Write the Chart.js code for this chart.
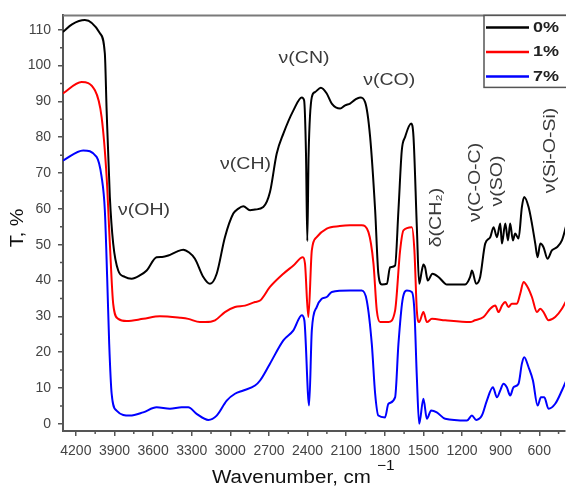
<!DOCTYPE html>
<html>
<head>
<meta charset="utf-8">
<script src="https://cdn.jsdelivr.net/npm/chart.js@4.4.1/dist/chart.umd.min.js"></script>
<style>
  html, body { margin: 0; padding: 0; background: #fff; }
  #wrap { width: 566px; height: 489px; position: relative; }
</style>
</head>
<body>
<div id="wrap"><canvas id="ftir-chart"></canvas></div>
<script>
// series names / colours
var seriesNames = ['0%', '1%', '7%'];
var seriesColors = ['#000000', '#ff0000', '#0000ff'];

// 0% sample
var wn0 = [4300,4230,4130,4013,3975,3961,3936,3910,3871,3820,3767,3700,3650,3573,3530,3482,3420,3366,3320,3275,
  3210,3158,3106,3042,2977,2940,2899,2847,2808,2744,2692,2640,2588,2510,2445,2427,2412,2402,2392,2367,
  2342,2297,2251,2212,2147,2108,2070,2030,1992,1953,1914,1875,1850,1823,1784,1759,1720,1694,1668,1642,
  1595,1577,1551,1533,1512,1500,1487,1466,1430,1383,1331,1318,1176,1137,1123,1090,1059,1020,981,955,
  929,903,890,864,843,826,805,787,761,735,717,683,657,631,613,592,567,536,502,463,424,390];
var t0 = [109.4,111.5,112.7,109,103.4,87.5,63.3,50.3,42.8,41,40.5,41.5,42.8,46.5,46.6,47,48,48.6,47.8,46.1,
  41,39.1,41.9,52.1,58.7,60,60.7,59.6,59.8,60.5,64.7,75.4,81,87.5,91.1,90.3,75,51,75,91.2,
  92.6,93.8,92.2,89.4,88,88.9,89.4,90.5,91.1,89.8,80.1,59.6,41.9,38.9,39.1,43.7,44.2,59.6,76.3,80.1,
  83.8,80.1,54.9,39.1,42.8,44.5,43.7,40,41.9,41,39.1,38.9,38.9,41,42.8,39.1,41,50.3,52.1,54.9,
  52.1,55.9,50.3,55.9,51.2,55.9,51.2,53.1,51.7,60.5,63.3,60.5,55.9,50.3,46.5,50.3,49.3,46.1,48.4,49.3,51.2,55.4];

// 1% sample
var wn1 = [4300,4156,4052,4000,3961,3936,3910,3871,3806,3677,3547,3391,3327,3236,3197,3119,3042,2964,2886,2808,
  2769,2692,2588,2510,2437,2420,2394,2367,2329,2251,2150,2070,1979,1927,1888,1862,1836,1772,1720,1681,
  1655,1590,1570,1551,1533,1500,1473,1434,1331,1137,1100,1033,981,942,916,890,864,839,813,774,
  748,722,691,657,618,592,567,528,476,424,390];
var t1 = [92.2,95.4,93.1,85.6,68.9,50.3,33.5,29.3,28.7,29.3,30,29.6,29.3,28.4,28.4,28.9,31.2,32.6,33,34,
  34.4,38.2,41.9,44.2,46.5,44.7,29.8,48.4,52.1,54.5,55.2,55.4,55.4,53.5,44.7,31.6,28.4,28.4,31.6,48.4,
  54,54.9,48.4,31.6,28.4,31.2,28.4,29.3,28.9,28.4,28.9,29.8,32.1,33,31.2,33,34,32.6,33.5,33.5,
  36.3,39.6,38.2,35.4,31.2,32.1,31.2,28.9,29.8,32.1,34.4];

// 7% sample
var wn7 = [4300,4143,4039,4000,3975,3957,3941,3922,3884,3780,3677,3573,3469,3378,3327,3262,3171,3106,3028,2964,
  2899,2808,2769,2692,2588,2510,2445,2425,2388,2367,2329,2290,2251,2212,2070,1979,1940,1901,1875,1850,
  1798,1772,1720,1694,1663,1629,1590,1570,1551,1533,1500,1473,1440,1396,1331,1162,1123,1090,1046,1007,
  960,929,903,878,852,826,800,761,735,717,683,649,613,587,561,528,476,424,390];
var t7 = [73.5,76.3,74.5,68.9,59.6,41,22.3,8.4,3.7,2.3,3.2,4.6,4.2,4.6,4.6,2.8,1.1,2.3,6.5,8.4,
  9.3,10.7,12.1,16.8,23.3,26.1,30.3,28.9,5.1,26.1,32.6,34.9,35.4,36.8,37.2,37.2,34.4,22.3,8.4,2.3,
  1.8,5.6,7.4,22.3,34.4,37.2,36.8,31.6,13,0,7,1.4,3.7,3.2,1.4,0.9,2.3,1.1,2.3,6.5,
  10.2,7.4,9.3,11.2,10.2,7.9,10.2,11.2,16.8,18.6,15.8,12.1,5.1,7.4,7.4,4.2,5.6,9.3,12.1];

// axis ticks
var xTicks = [4200,3900,3600,3300,3000,2700,2400,2100,1800,1500,1200,900,600];
var xMinor = [4050,3750,3450,3150,2850,2550,2250,1950,1650,1350,1050,750,450];
var yTicks = [0,10,20,30,40,50,60,70,80,90,100,110];
var yMinor = [5,15,25,35,45,55,65,75,85,95,105];

// band labels (wavenumber, T, vertical?)
var bandLabels = ['ν(OH)','ν(CH)','ν(CN)','ν(CO)','δ(CH₂)','ν(C-O-C)','ν(SO)','ν(Si-O-Si)'];
var bandX = [3671, 2882, 2427, 1766, 1401, 1098, 927, 515];
var bandY = [59.6, 72.4, 101.9, 95.9, 57.6, 67.4, 67.8, 76.3];
var bandVert = [false, false, false, false, true, true, true, true];

function toPoints(xs, ys) {
    var pts = [];
    for (var i = 0; i < xs.length; i++) {
        pts.push({ x: xs[i], y: ys[i] });
    }
    return pts;
}

var allX = [wn0, wn1, wn7];
var allY = [t0, t1, t7];
var datasets = [];
for (var s = 0; s < seriesNames.length; s++) {
    datasets.push({
        label: seriesNames[s],
        data: toPoints(allX[s], allY[s]),
        borderColor: seriesColors[s],
        backgroundColor: seriesColors[s],
        borderWidth: 2,
        pointRadius: 0,
        cubicInterpolationMode: 'monotone',
        fill: false
    });
}

var FONT = '"Liberation Sans", Arial, sans-serif';

function stretchText(ctx, txt, x, y, rot, sx, align) {
    ctx.save();
    ctx.translate(x, y);
    if (rot) ctx.rotate(rot);
    ctx.scale(sx, 1);
    ctx.textAlign = align || 'center';
    ctx.textBaseline = 'middle';
    ctx.fillText(txt, 0, 0);
    ctx.restore();
}

var decoPlugin = {
    id: 'deco',
    afterDraw: function (chart) {
        var ctx = chart.ctx;
        var xs = chart.scales.x, ys = chart.scales.y;
        var area = chart.chartArea;

        ctx.save();
        // top frame
        ctx.strokeStyle = '#7a7a7a';
        ctx.lineWidth = 2;
        ctx.beginPath();
        ctx.moveTo(area.left, area.top);
        ctx.lineTo(chart.width, area.top);
        ctx.stroke();

        // minor ticks
        ctx.strokeStyle = '#555';
        ctx.lineWidth = 1.5;
        ctx.beginPath();
        xMinor.forEach(function (v) {
            var px = xs.getPixelForValue(v);
            ctx.moveTo(px, area.bottom);
            ctx.lineTo(px, area.bottom + 3);
        });
        yMinor.forEach(function (v) {
            var py = ys.getPixelForValue(v);
            ctx.moveTo(area.left, py);
            ctx.lineTo(area.left - 3, py);
        });
        ctx.stroke();

        // band annotations
        ctx.fillStyle = '#3a3a3a';
        ctx.font = '16px ' + FONT;
        for (var i = 0; i < bandLabels.length; i++) {
            var bx = xs.getPixelForValue(bandX[i]);
            var by = ys.getPixelForValue(bandY[i]);
            stretchText(ctx, bandLabels[i], bx, by, bandVert[i] ? -Math.PI / 2 : 0, 1.22);
        }

        // legend
        var lx = 484, ly = area.top, lw = chart.width - 484, lh = 72;
        ctx.fillStyle = '#fff';
        ctx.fillRect(lx, ly, lw, lh);
        ctx.strokeStyle = '#555';
        ctx.lineWidth = 1.5;
        ctx.strokeRect(lx, ly, lw + 2, lh);
        ctx.font = 'bold 15px ' + FONT;
        for (var k = 0; k < seriesNames.length; k++) {
            var yy = ly + 12 + k * 24.5;
            ctx.strokeStyle = seriesColors[k];
            ctx.lineWidth = 2.5;
            ctx.beginPath();
            ctx.moveTo(lx + 2, yy);
            ctx.lineTo(lx + 45, yy);
            ctx.stroke();
            ctx.fillStyle = '#222';
            stretchText(ctx, seriesNames[k], lx + 49, yy, 0, 1.2, 'left');
        }

        // axis titles
        ctx.fillStyle = '#111';
        ctx.font = '18px ' + FONT;
        stretchText(ctx, 'T, %', 18, 228, -Math.PI / 2, 1.1);
        stretchText(ctx, 'Wavenumber, cm', 212, 478, 0, 1.14, 'left');
        ctx.font = '14px ' + FONT;
        stretchText(ctx, '−1', 377, 466, 0, 1.1, 'left');
        ctx.restore();
    }
};

var ctxChart = document.getElementById('ftir-chart').getContext('2d');
var ftirChart = new Chart(ctxChart, {
    type: 'line',
    data: { datasets: datasets },
    options: {
        responsive: true,
        maintainAspectRatio: false,
        animation: false,
        layout: { padding: { top: 15, right: 1, left: 0, bottom: 0 } },
        plugins: {
            legend: { display: false },
            tooltip: { enabled: false }
        },
        scales: {
            x: {
                type: 'linear',
                reverse: true,
                min: 400,
                max: 4300,
                afterBuildTicks: function (scale) {
                    scale.ticks = xTicks.map(function (v) { return { value: v }; });
                },
                afterFit: function (scale) { scale.height = 58; },
                border: { display: true, color: '#555', width: 2 },
                grid: { display: true, drawOnChartArea: false, drawTicks: true, tickLength: 5, color: '#555', lineWidth: 1.5 },
                ticks: {
                    autoSkip: false,
                    maxRotation: 0,
                    padding: 7,
                    color: '#444',
                    font: { family: FONT, size: 14 },
                    callback: function (v) { return String(v); }
                }
            },
            y: {
                min: -2,
                max: 114,
                afterBuildTicks: function (scale) {
                    scale.ticks = yTicks.map(function (v) { return { value: v }; });
                },
                afterFit: function (scale) { scale.width = 63; },
                border: { display: true, color: '#555', width: 2 },
                grid: { display: true, drawOnChartArea: false, drawTicks: true, tickLength: 5, color: '#555', lineWidth: 1.5 },
                ticks: {
                    padding: 7,
                    color: '#444',
                    font: { family: FONT, size: 14 },
                    callback: function (v) { return String(v); }
                }
            }
        }
    },
    plugins: [decoPlugin]
});
</script>
</body>
</html>
